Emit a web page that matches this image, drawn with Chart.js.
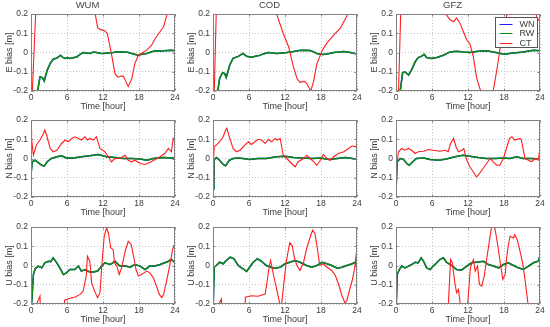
<!DOCTYPE html>
<html>
<head>
<meta charset="utf-8">
<script src="https://cdn.jsdelivr.net/npm/chart.js@4"></script>
<style>
  body { margin: 0; background: #fff; width: 550px; height: 327px; position: relative; overflow: hidden; }
  canvas { position: absolute; }
</style>
</head>
<body>
<script>
// ---------------------------------------------------------------------------
// Data: [time in hours, bias in metres]
// ---------------------------------------------------------------------------

const CENTERS = ['WUM', 'COD', 'GFZ'];
const COMPONENTS = ['E', 'N', 'U'];
const SERIES = ['WN', 'RW', 'CT'];
const HOUR_TICKS = [0, 6, 12, 18, 24];
const BIAS_TICKS = [-0.2, -0.1, 0, 0.1, 0.2];

const E_WUM_RW = [[0,-0.6],[0.9,-0.3],[1.1,-0.2],[1.5,-0.127],[1.9,-0.13],[2.2,-0.148],[2.7,-0.092],[3.2,-0.057],[3.7,-0.035],[4.2,-0.03],[4.6,-0.023],[4.9,-0.014],[5.3,-0.025],[5.7,-0.031],[6.1,-0.026],[6.5,-0.031],[7.0,-0.027],[7.6,-0.023],[8.2,-0.01],[8.7,0],[9.3,-0.003],[9.8,-0.005],[10.4,0.002],[10.9,0],[11.5,-0.004],[12,-0.005],[12.8,-0.002],[13.7,0],[14.5,0.004],[15.4,0.003],[16.1,0.001],[16.8,-0.005],[17.4,-0.01],[17.9,-0.014],[18.6,-0.008],[19.3,-0.005],[20,0.003],[20.7,0.009],[21.4,0.008],[22.1,0.009],[22.8,0.011],[23.4,0.012],[24,0.009]];
const E_WUM_CT = [[0,-0.6],[0.2,-0.22],[0.8,0.22],[1.1,0.6],[10.3,0.6],[10.7,0.2],[11.1,0.13],[11.5,0.12],[12.3,0.113],[12.7,0.1],[13.3,0.012],[14,-0.11],[14.5,-0.128],[15,-0.122],[15.4,-0.124],[15.8,-0.15],[16.2,-0.176],[16.8,-0.136],[17.3,-0.058],[17.9,-0.014],[18.4,-0.005],[19.3,0.012],[20.1,0.038],[20.7,0.073],[21.5,0.108],[22.1,0.134],[22.6,0.19],[23,0.3],[24,0.5]];

const E_COD_RW = [[0,-0.6],[0.6,-0.3],[0.8,-0.2],[1.1,-0.135],[1.6,-0.105],[1.95,-0.11],[2.2,-0.13],[2.8,-0.065],[3.35,-0.03],[4.2,-0.02],[5,-0.005],[5.6,-0.02],[6.4,-0.025],[7.1,-0.02],[7.8,-0.015],[8.5,-0.006],[9.2,0],[10,-0.002],[10.6,-0.005],[11.5,-0.002],[12.3,0],[13.4,0.005],[14.3,0.01],[15.1,0.012],[16.2,0.01],[16.8,0.003],[17.3,-0.005],[18.4,-0.01],[19.2,-0.006],[20.1,0],[21,0.002],[21.8,0.005],[22.9,0],[24,-0.008]];
const E_COD_CT = [[0,-0.6],[0.2,-0.22],[0.55,0.22],[0.8,0.6],[10.3,0.6],[10.6,0.2],[11.7,0.1],[12.6,0.03],[13.4,-0.075],[14,-0.135],[14.5,-0.155],[15.2,-0.15],[15.6,-0.16],[16.3,-0.2],[16.8,-0.145],[17.3,-0.06],[18.2,0.01],[19,0.05],[20.1,0.09],[21.2,0.125],[22.3,0.19],[22.6,0.21],[23,0.3],[24,0.5]];

const E_GFZ_RW = [[0,-0.6],[0.5,-0.3],[0.7,-0.2],[1.1,-0.105],[1.5,-0.1],[2.1,-0.117],[2.6,-0.09],[3.2,-0.048],[3.7,-0.026],[4.3,-0.019],[4.7,-0.009],[5.1,-0.026],[5.9,-0.031],[6.8,-0.026],[7.9,-0.014],[9,0.003],[10.1,0.007],[11.2,0.003],[12.3,0],[13.7,0.007],[15.1,0.009],[16.2,0.003],[17.1,-0.003],[17.9,-0.009],[19.6,-0.002],[21.2,0.003],[22.9,0.012],[24,0.009]];
const E_GFZ_CT = [[0,-0.6],[0.4,-0.22],[0.8,0.22],[1.0,0.5],[2.9,0.35],[3.2,0.195],[3.5,0.35],[8.0,0.4],[8.3,0.2],[9,0.17],[9.6,0.16],[10.1,0.18],[10.7,0.15],[11.2,0.11],[11.8,0.065],[12.3,0.047],[12.9,-0.023],[13.4,-0.127],[14,-0.19],[14.4,-0.21],[14.8,-0.35],[15.8,-0.35],[16.2,-0.2],[16.8,-0.092],[17.3,0.012],[18,0.12],[18.8,0.25],[22.5,0.3],[23.5,0.18],[24,0.16]];

const N_WUM_RW = [[0,-0.087],[0.2,-0.017],[0.7,-0.009],[1.2,-0.021],[1.8,-0.035],[2.2,-0.04],[2.7,-0.017],[3.4,0],[4.3,0.009],[5.1,0.014],[5.9,0.003],[7.1,0.003],[8.4,0.009],[9.8,0.014],[11.2,0.021],[12.6,0.009],[14,0.005],[15.4,0],[16.8,0],[18.2,-0.003],[19.3,-0.009],[20.4,0],[22.1,0.005],[23.5,0.002],[24,0]];
const N_WUM_CT = [[0,0.15],[0.1,0.1],[0.4,0.017],[0.9,0.07],[1.5,0.096],[2.1,0.13],[2.3,0.148],[2.6,0.122],[3.2,0.052],[3.7,0.035],[4.3,0.043],[5.1,0.078],[5.7,0.096],[6.2,0.087],[6.8,0.104],[7.3,0.113],[7.9,0.104],[8.4,0.096],[9,0.113],[9.4,0.096],[9.8,0.104],[10.4,0.096],[10.9,0.113],[11.5,0.052],[12.3,0.035],[12.9,0.009],[13.4,-0.017],[14,0],[14.8,0],[15.7,0.017],[16.2,-0.009],[16.8,-0.017],[17.3,-0.009],[18.2,-0.026],[19,-0.031],[19.8,-0.021],[20.7,-0.005],[21.5,0.009],[22.3,0.026],[22.9,0.052],[23.4,0.035],[23.7,0.104],[24,0.087]];

const N_COD_RW = [[0,-0.157],[0.15,-0.009],[0.55,0.005],[1.1,-0.009],[1.7,-0.031],[2.1,-0.038],[2.7,-0.009],[3.35,0],[4.2,0.003],[5,0],[6.1,-0.005],[7.5,0],[8.9,0],[10.6,0.009],[12,0.012],[13.4,0.005],[14.8,0.003],[16.5,0],[17.9,0.003],[19.3,-0.005],[20.7,0],[22.1,0.005],[23.2,0],[24,-0.005]];
const N_COD_CT = [[0,-0.12],[0.1,0.0],[0.2,0.06],[0.55,0.07],[1.1,0.087],[1.7,0.113],[2.1,0.148],[2.3,0.157],[2.8,0.104],[3.35,0.052],[3.9,0.035],[4.5,0.043],[5.3,0.07],[5.9,0.087],[6.4,0.073],[7,0.087],[7.5,0.1],[8.1,0.096],[8.7,0.078],[9.2,0.099],[9.8,0.087],[10.3,0.104],[10.7,0.096],[11.2,0.104],[11.7,0.017],[12.3,0],[13.1,-0.026],[13.7,-0.043],[14.2,-0.017],[15.1,0],[15.6,0.017],[16.2,0],[16.8,-0.017],[17.3,-0.035],[17.9,-0.009],[18.4,0.021],[19,0],[19.6,-0.009],[20.1,0.009],[20.9,0.026],[21.8,0.035],[22.6,0.052],[23.2,0.066],[23.7,0.061],[24,0.07]];

const N_GFZ_RW = [[0,-0.157],[0.2,-0.017],[0.7,0],[1.2,-0.003],[1.8,-0.026],[2.2,-0.035],[2.8,-0.017],[3.4,0],[4.6,0.003],[5.7,-0.005],[7.1,-0.009],[8.4,-0.003],[9.8,0.009],[11.2,0.017],[12.3,0.012],[13.7,0.005],[15.1,0],[16.5,0],[17.9,0.003],[19,0],[20.1,0.009],[21.2,0],[22.6,0],[24,-0.003]];
const N_GFZ_CT = [[0,-0.13],[0.1,-0.05],[0.4,0.035],[0.95,0.052],[1.5,0.043],[2.1,0.052],[2.6,0.043],[3.2,0.026],[3.7,0.035],[4.6,0.038],[5.4,0.047],[6.2,0.043],[7.3,0.038],[8.2,0.043],[8.7,0.035],[9.1,0.078],[9.6,0.104],[10,0.061],[10.4,0.035],[11,0.043],[11.3,0.052],[11.7,0],[12.3,-0.043],[12.9,-0.07],[13.4,-0.096],[13.7,-0.087],[14.3,-0.061],[15.1,-0.026],[15.7,0],[16.2,-0.017],[16.8,-0.035],[17.3,-0.035],[17.9,0],[18.4,0.052],[18.9,0.104],[19.3,0.113],[19.8,0.096],[20.7,0.104],[20.9,0.096],[21.5,0],[22.1,-0.009],[22.6,-0.017],[23.2,0],[23.7,-0.009],[24,0.052]];

const U_WUM_RW = [[0,-0.25],[0.4,-0.047],[0.7,-0.017],[1.2,-0.003],[1.8,-0.012],[2.3,0.014],[2.9,0.022],[3.3,0.02],[3.7,0.04],[4.3,0.014],[4.8,-0.012],[5.4,-0.047],[5.9,-0.038],[6.5,-0.021],[7.3,-0.021],[7.9,-0.003],[8.4,-0.029],[9,-0.021],[9.8,-0.034],[10.4,-0.034],[11.1,-0.029],[11.8,-0.003],[12.3,0.014],[13.2,0.005],[14,0.022],[14.8,-0.003],[15.7,-0.003],[16.5,-0.009],[17.3,0.005],[18.2,-0.003],[19,-0.021],[19.8,-0.003],[20.7,-0.003],[21.5,0.005],[22.3,0.014],[22.9,0.022],[23.4,0.031],[24,0.014]];
const U_WUM_CT = [[0,-0.5],[0.8,-0.21],[1.5,-0.159],[1.7,-0.4],[5.3,-0.4],[5.6,-0.18],[6.5,-0.17],[7.3,-0.165],[8.2,-0.15],[8.7,-0.133],[9.2,-0.055],[9.4,0.048],[9.8,0.022],[10.1,-0.09],[10.7,-0.141],[11.1,-0.167],[11.5,-0.141],[11.8,-0.003],[12.2,0.152],[12.6,0.195],[12.9,0.169],[13.3,0.091],[13.7,0.083],[13.9,0.014],[14.3,-0.003],[14.7,-0.047],[15.1,-0.012],[15.7,0.074],[16.2,0.126],[16.7,0.109],[17.1,0.048],[17.5,-0.021],[17.9,-0.055],[18.4,-0.047],[19.3,-0.029],[19.8,-0.038],[20.4,-0.064],[20.9,-0.107],[21.4,-0.15],[21.8,-0.167],[22.1,-0.15],[22.6,-0.081],[23.2,0.014],[23.6,0.083],[24,0.117]];

const U_COD_RW = [[0,-0.25],[0.2,-0.009],[0.55,0],[1.1,0.017],[1.7,0.009],[2.2,0.026],[2.9,0.043],[3.5,0.035],[4.2,0],[5,-0.017],[5.6,-0.031],[6.1,-0.009],[6.7,0.017],[7.4,0.035],[8.1,0.021],[8.9,0],[10.1,-0.014],[11.2,-0.009],[12,0.009],[12.8,0.017],[13.7,0.026],[14.5,0.017],[15.6,0],[16.5,-0.009],[17.3,0],[18.2,0.017],[19,0.009],[19.8,0],[20.7,-0.014],[21.5,-0.009],[22.3,0],[23.2,0.009],[23.7,0.017],[24,-0.009]];
const U_COD_CT = [[0,-0.5],[0.8,-0.21],[1.4,-0.174],[1.6,-0.4],[5.1,-0.4],[5.4,-0.165],[6.4,-0.157],[7.5,-0.16],[8.7,-0.148],[9,-0.087],[9.4,0],[9.6,0.026],[10.1,-0.052],[10.6,-0.122],[11.1,-0.195],[11.4,-0.21],[11.7,-0.122],[12.2,0.017],[12.6,0.087],[12.8,0.118],[13.2,0.104],[13.6,0.035],[14,0],[14.5,-0.026],[15.1,0.017],[15.6,0.087],[16.2,0.148],[16.6,0.183],[17,0.165],[17.4,0.087],[17.8,0],[18.4,0.009],[19,-0.009],[19.8,-0.026],[20.4,-0.052],[21,-0.104],[21.5,-0.157],[22,-0.195],[22.3,-0.183],[22.8,-0.122],[23.2,-0.078],[23.6,-0.017],[24,0.096]];

const U_GFZ_RW = [[0,-0.25],[0.2,-0.047],[0.55,-0.021],[0.95,-0.003],[1.5,-0.012],[2.1,-0.003],[2.6,0.005],[3.2,0.017],[3.7,0.014],[4.2,0.04],[4.6,0.022],[5.1,-0.012],[5.7,-0.021],[6.2,-0.003],[6.8,0.014],[7.3,0.031],[7.9,0.04],[8.4,0.017],[9.3,0],[10.1,-0.021],[10.9,-0.024],[11.8,-0.003],[12.6,0.014],[13.4,0.017],[14.6,0.022],[15.4,0.005],[16.2,-0.003],[17.1,-0.012],[17.9,0.005],[18.7,0.014],[19.6,0],[20.4,-0.012],[21.2,-0.021],[22.1,-0.003],[22.9,0.014],[23.7,0.022],[24,0.05]];
const U_GFZ_CT = [[0,-0.5],[8.5,-0.5],[8.7,-0.22],[9.1,0.031],[9.4,0.014],[9.8,-0.09],[10.1,-0.141],[10.4,-0.124],[10.7,-0.195],[10.9,-0.4],[11.7,-0.4],[11.9,-0.22],[12.4,-0.01],[12.9,0.031],[13.2,-0.029],[13.6,-0.003],[13.9,-0.098],[14.3,-0.107],[14.7,-0.055],[15.1,0.031],[15.6,0.134],[15.9,0.195],[16.2,0.21],[16.5,0.19],[16.9,0.117],[17.3,0.031],[17.8,-0.072],[18.2,-0.047],[18.4,0.031],[18.7,0.1],[19,0.152],[19.6,0.143],[19.8,0.16],[20.2,0.134],[20.6,0.083],[20.8,0.057],[21.1,0.014],[21.5,-0.072],[22,-0.2],[22.3,-0.4],[24,-0.4]];

// WN and RW coincide to within a line width in every panel
const RW = {
  E: [E_WUM_RW, E_COD_RW, E_GFZ_RW],
  N: [N_WUM_RW, N_COD_RW, N_GFZ_RW],
  U: [U_WUM_RW, U_COD_RW, U_GFZ_RW],
};
const WN = RW;
const CT = {
  E: [E_WUM_CT, E_COD_CT, E_GFZ_CT],
  N: [N_WUM_CT, N_COD_CT, N_GFZ_CT],
  U: [U_WUM_CT, U_COD_CT, U_GFZ_CT],
};

// ---------------------------------------------------------------------------
// Layout / style
// ---------------------------------------------------------------------------

const COL_LEFT = [31, 213, 396];
const ROW_TOP = [14, 120, 227];
const PLOT_W = 144, PLOT_H = 77;
const Y_AXIS_W = 31, X_AXIS_H = 24, PAD_R = 8, TOP_H = 14;

const COLORS = { WN: 'rgb(30,30,255)', RW: 'rgb(10,140,10)', CT: 'rgb(255,30,30)' };
const FONT = '"Liberation Sans", Arial, sans-serif';
const TEXT = '#3a3a3a';
const AXIS = '#808080';
const GRID = '#c4c4c4';

const toXY = arr => arr.map(p => ({ x: p[0], y: p[1] }));
const fmtBias = v => Math.abs(v) < 1e-9 ? '0' : String(+v.toFixed(1));

const boxPlugin = {
  id: 'box',
  afterDatasetsDraw(chart) {
    const { ctx, chartArea: a, scales } = chart;
    const l = Math.round(a.left) + 0.5, r = Math.round(a.right) - 0.5;
    const t = Math.round(a.top) + 0.5, b = Math.round(a.bottom) - 0.5;
    ctx.save();
    ctx.strokeStyle = AXIS;
    ctx.lineWidth = 1;
    ctx.strokeRect(l, t, r - l, b - t);
    ctx.beginPath();
    HOUR_TICKS.forEach(h => {
      const x = Math.round(scales.x.getPixelForValue(h)) + 0.5;
      ctx.moveTo(x, b); ctx.lineTo(x, b - 2);
      ctx.moveTo(x, t); ctx.lineTo(x, t + 2);
    });
    BIAS_TICKS.forEach(v => {
      const y = Math.round(scales.y.getPixelForValue(v)) + 0.5;
      ctx.moveTo(l, y); ctx.lineTo(l + 2, y);
      ctx.moveTo(r, y); ctx.lineTo(r - 2, y);
    });
    ctx.stroke();
    ctx.restore();
  }
};

const legendPlugin = {
  id: 'boxLegend',
  afterDraw(chart, args, opts) {
    if (!opts.show) return;
    const { ctx, chartArea: a } = chart;
    const x = Math.round(a.right) - 44.5, y = Math.round(a.top) + 3.5, w = 42, h = 30;
    ctx.save();
    ctx.fillStyle = '#fff';
    ctx.fillRect(x, y, w, h);
    ctx.strokeStyle = '#555';
    ctx.lineWidth = 1;
    ctx.strokeRect(x, y, w, h);
    ctx.font = '9px ' + FONT;
    ctx.textBaseline = 'middle';
    ctx.textAlign = 'left';
    SERIES.forEach((s, i) => {
      const yy = Math.round(y + 6.5 + i * 9.3) + 0.5;
      ctx.strokeStyle = COLORS[s];
      ctx.beginPath();
      ctx.moveTo(x + 4, yy); ctx.lineTo(x + 17, yy);
      ctx.stroke();
      ctx.fillStyle = TEXT;
      ctx.fillText(s, x + 24, yy);
    });
    ctx.restore();
  }
};

// ---------------------------------------------------------------------------
// Panels
// ---------------------------------------------------------------------------

function makePanel(row, col) {
  const comp = COMPONENTS[row];
  const canvas = document.createElement('canvas');
  const cw = Y_AXIS_W + PLOT_W + PAD_R;
  const ch = TOP_H + PLOT_H + X_AXIS_H;
  canvas.width = cw; canvas.height = ch;
  canvas.style.left = (COL_LEFT[col] - Y_AXIS_W) + 'px';
  canvas.style.top = (ROW_TOP[row] - TOP_H) + 'px';
  canvas.style.width = cw + 'px';
  canvas.style.height = ch + 'px';
  document.body.appendChild(canvas);

  const line = (label, data, width) => ({
    label, data: toXY(data), borderColor: COLORS[label], borderWidth: width,
    pointRadius: 0, tension: 0, fill: false,
  });

  new Chart(canvas.getContext('2d'), {
    type: 'line',
    data: {
      // first dataset is painted last, so CT ends up on top, WN at the bottom
      datasets: [
        line('CT', CT[comp][col], 1.1),
        line('RW', RW[comp][col], 1.5),
        line('WN', WN[comp][col], 1.5),
      ]
    },
    options: {
      responsive: false,
      animation: false,
      layout: { padding: { left: 0, right: PAD_R, top: row === 0 ? 0 : TOP_H, bottom: 0 } },
      plugins: {
        legend: { display: false },
        tooltip: { enabled: false },
        title: {
          display: row === 0, text: CENTERS[col], color: '#444',
          font: { family: FONT, size: 9.5, weight: 'normal', lineHeight: 1 },
          padding: { top: 1, bottom: TOP_H - 10.5 },
        },
        boxLegend: { show: row === 0 && col === 2 },
      },
      scales: {
        x: {
          type: 'linear', min: HOUR_TICKS[0], max: HOUR_TICKS[HOUR_TICKS.length - 1],
          afterBuildTicks: s => { s.ticks = HOUR_TICKS.map(v => ({ value: v })); },
          afterFit: s => { s.height = X_AXIS_H; },
          ticks: { color: TEXT, font: { family: FONT, size: 8.5 }, padding: 2, maxRotation: 0 },
          grid: { color: GRID, drawTicks: false },
          border: { display: false, dash: [1, 2] },
          title: { display: true, text: 'Time [hour]', color: TEXT,
                   font: { family: FONT, size: 9 }, padding: { top: 0, bottom: 3 } },
        },
        y: {
          min: BIAS_TICKS[0], max: BIAS_TICKS[BIAS_TICKS.length - 1],
          afterBuildTicks: s => { s.ticks = BIAS_TICKS.map(v => ({ value: v })); },
          afterFit: s => { s.width = Y_AXIS_W; },
          ticks: { color: TEXT, font: { family: FONT, size: 8.5 }, padding: 3, callback: fmtBias },
          grid: { color: GRID, drawTicks: false },
          border: { display: false, dash: [1, 2] },
          title: { display: true, text: comp + ' bias [m]', color: TEXT,
                   font: { family: FONT, size: 9 }, padding: { top: 4.5, bottom: 0 } },
        },
      },
    },
    plugins: [boxPlugin, legendPlugin],
  });
}

for (let r = 0; r < 3; r++) for (let c = 0; c < 3; c++) makePanel(r, c);
</script>
</body>
</html>
